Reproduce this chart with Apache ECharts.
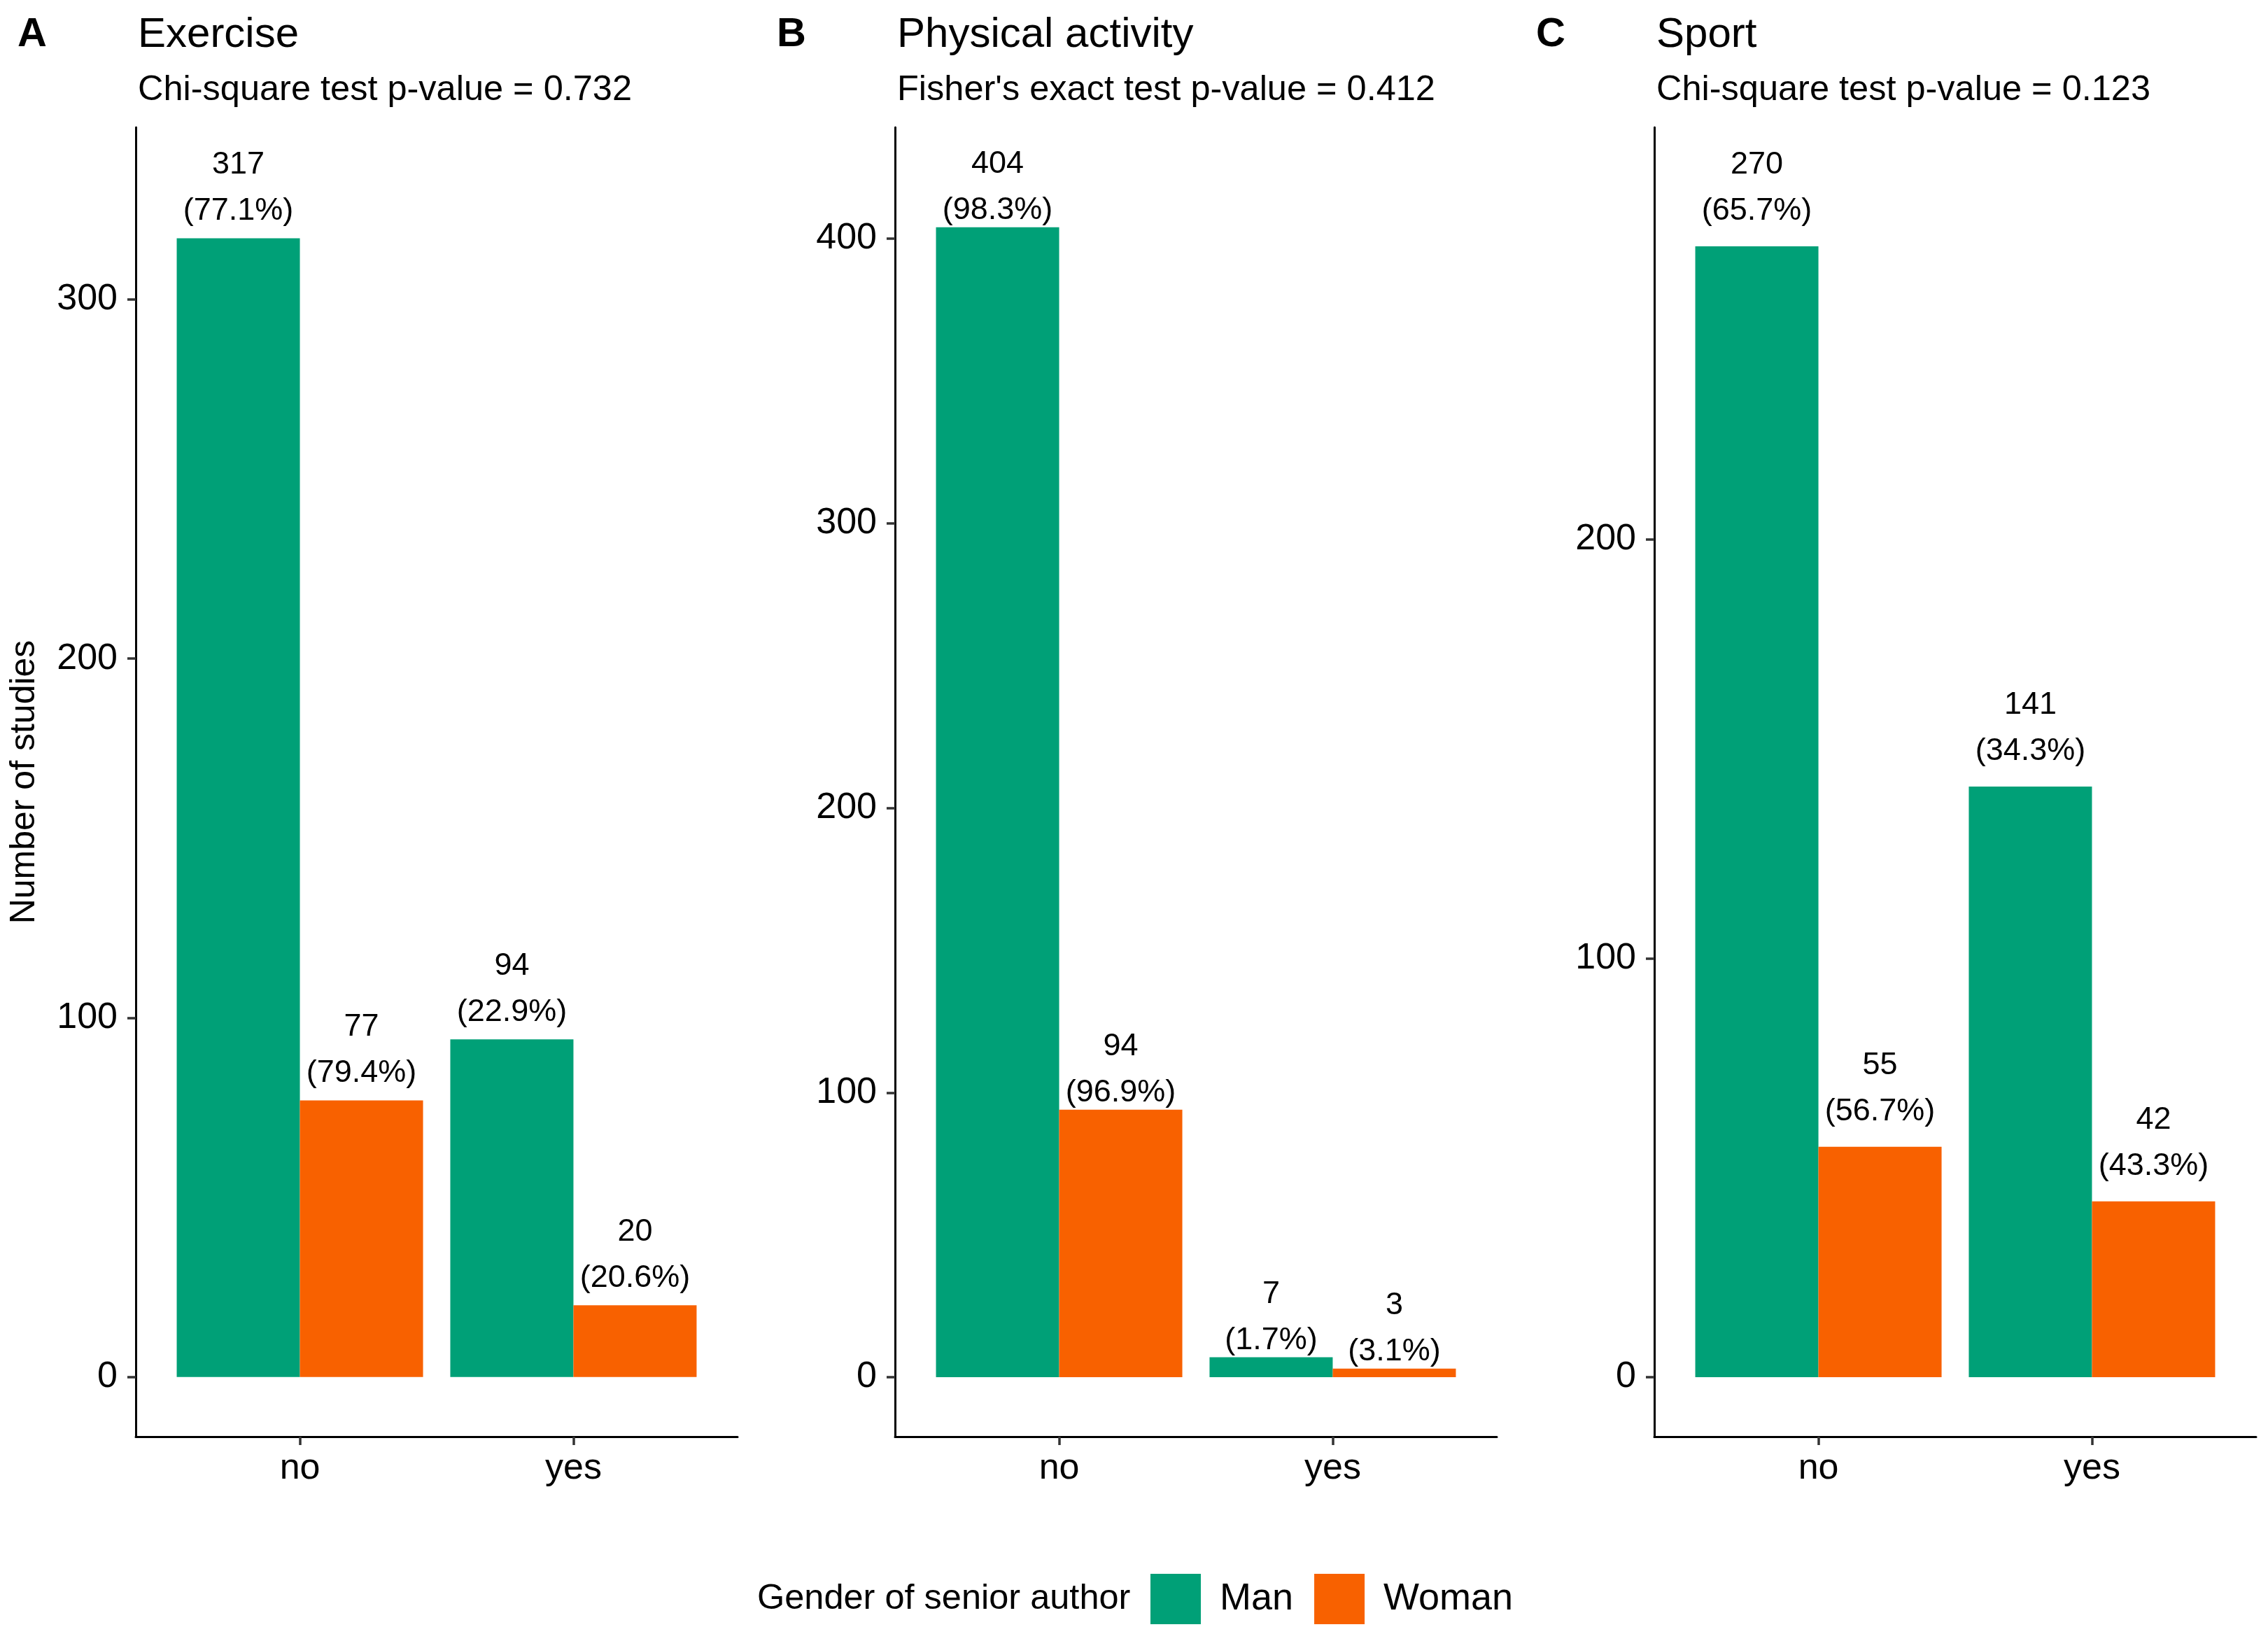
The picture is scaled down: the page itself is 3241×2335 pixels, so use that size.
<!DOCTYPE html>
<html>
<head>
<meta charset="utf-8">
<script src="https://cdn.jsdelivr.net/npm/echarts@6/dist/echarts.min.js"></script>
<style>
html,body{margin:0;padding:0;background:#fff;}
#chart{width:3241px;height:2335px;}
</style>
</head>
<body>
<div id="chart"></div>
<script>
// ---- data ----
const categories = ['no', 'yes'];
const panelLetters = ['A', 'B', 'C'];
const panelTitles = ['Exercise', 'Physical activity', 'Sport'];
const panelSubtitles = [
  'Chi-square test p-value = 0.732',
  "Fisher's exact test p-value = 0.412",
  'Chi-square test p-value = 0.123'
];
const exerciseMan = [317, 94];
const exerciseWoman = [77, 20];
const exerciseManPct = [77.1, 22.9];
const exerciseWomanPct = [79.4, 20.6];
const activityMan = [404, 7];
const activityWoman = [94, 3];
const activityManPct = [98.3, 1.7];
const activityWomanPct = [96.9, 3.1];
const sportMan = [270, 141];
const sportWoman = [55, 42];
const sportManPct = [65.7, 34.3];
const sportWomanPct = [56.7, 43.3];
const yTicksA = [0, 100, 200, 300];
const yTicksB = [0, 100, 200, 300, 400];
const yTicksC = [0, 100, 200];
const legendTitle = 'Gender of senior author';
const seriesNames = ['Man', 'Woman'];
const yAxisName = 'Number of studies';

// ---- layout / style ----
const FONT = 'Liberation Sans, Arial, Helvetica, sans-serif';
const colors = ['#00A077', '#F86100'];
const gridLefts = [194, 1279, 2364];
const gridWidth = 860;
const gridTop = 182;
const gridHeight = 1871;
const yRanges = [[-16.6, 347.9], [-20.9, 439.1], [-14.2, 298.4]];
const labelDist = [6, -9, 17];
const panels = [
  {man: exerciseMan, woman: exerciseWoman, manPct: exerciseManPct, womanPct: exerciseWomanPct, ticks: yTicksA},
  {man: activityMan, woman: activityWoman, manPct: activityManPct, womanPct: activityWomanPct, ticks: yTicksB},
  {man: sportMan, woman: sportWoman, manPct: sportManPct, womanPct: sportWomanPct, ticks: yTicksC}
];

const grids = [], xAxes = [], yAxes = [], series = [], titles = [];
panels.forEach((p, i) => {
  grids.push({left: gridLefts[i], top: gridTop, width: gridWidth, height: gridHeight, containLabel: false});
  xAxes.push({
    type: 'value', gridIndex: i, min: 0.4, max: 2.6, position: 'bottom',
    axisLine: {show: true, onZero: false, lineStyle: {color: '#000', width: 3}},
    axisTick: {show: true, customValues: [1, 2], length: 12, lineStyle: {color: '#333', width: 3.5}},
    axisLabel: {customValues: [1, 2], formatter: v => categories[Math.round(v) - 1], color: '#000',
      fontSize: 52, fontFamily: FONT, margin: 20},
    splitLine: {show: false}
  });
  yAxes.push({
    type: 'value', gridIndex: i, min: yRanges[i][0], max: yRanges[i][1],
    name: i === 0 ? yAxisName : '', nameLocation: 'middle', nameGap: 134,
    nameTextStyle: {fontSize: 50, fontFamily: FONT, color: '#000'},
    axisLine: {show: true, onZero: false, lineStyle: {color: '#000', width: 3}},
    axisTick: {show: true, customValues: p.ticks, length: 12, lineStyle: {color: '#333', width: 3.5}},
    axisLabel: {customValues: p.ticks, color: '#000', fontSize: 52, fontFamily: FONT, margin: 26},
    splitLine: {show: false}
  });
  [[p.man, p.manPct], [p.woman, p.womanPct]].forEach((s, k) => {
    series.push({
      type: 'bar', name: seriesNames[k], xAxisIndex: i, yAxisIndex: i,
      barWidth: 176, barGap: '0%',
      itemStyle: {color: colors[k]},
      data: s[0].map((v, j) => [j + 1, v]),
      label: {
        show: true, position: 'top', distance: labelDist[i],
        formatter: prm => s[0][prm.dataIndex] + '\n(' + s[1][prm.dataIndex].toFixed(1) + '%)',
        fontSize: 45, lineHeight: 66, fontFamily: FONT, color: '#000'
      }
    });
  });
  titles.push({text: panelLetters[i], left: gridLefts[i] - 174, top: 15,
    textStyle: {fontSize: 58, fontWeight: 'bold', fontFamily: FONT, color: '#000', lineHeight: 60}});
  titles.push({text: panelTitles[i], left: gridLefts[i] - 2, top: 15,
    textStyle: {fontSize: 60, fontWeight: 'normal', fontFamily: FONT, color: '#000', lineHeight: 60}});
  titles.push({text: panelSubtitles[i], left: gridLefts[i] - 2, top: 99,
    textStyle: {fontSize: 50.5, fontWeight: 'normal', fontFamily: FONT, color: '#000', lineHeight: 50}});
});
titles.push({text: legendTitle, left: 1077, top: 2255,
  textStyle: {fontSize: 50.5, fontWeight: 'normal', fontFamily: FONT, color: '#000', lineHeight: 50}});

const chart = echarts.init(document.getElementById('chart'), null, {renderer: 'canvas'});
chart.setOption({
  backgroundColor: '#fff',
  animation: false,
  title: titles,
  legend: {
    data: seriesNames, left: 1639, top: 2244, orient: 'horizontal',
    itemWidth: 72, itemHeight: 72, itemGap: 30, icon: 'rect',
    textStyle: {fontSize: 54, fontFamily: FONT, color: '#000', padding: [0, 0, 0, 22]}
  },
  grid: grids, xAxis: xAxes, yAxis: yAxes, series: series
});
</script>
</body>
</html>
